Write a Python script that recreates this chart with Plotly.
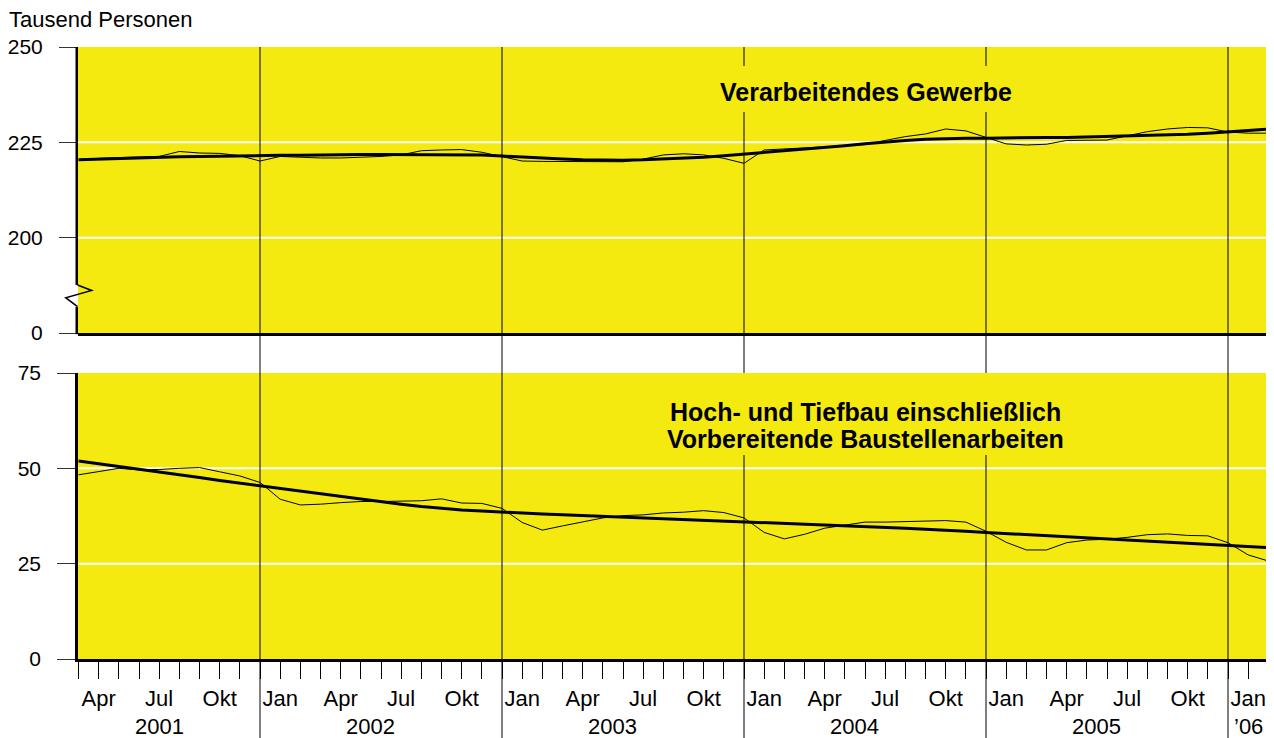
import plotly.graph_objects as go

# calendar: monthly values from April 2001 to March 2006
MONTHS = ["Jan", "Feb", "Mär", "Apr", "Mai", "Jun", "Jul", "Aug", "Sep", "Okt", "Nov", "Dez"]
start_year = 2001
start_month = 4
n_months = 60
periods = [(start_year + (start_month - 1 + i) // 12, MONTHS[(start_month - 1 + i) % 12])
           for i in range(n_months)]
label_months = ["Jan", "Apr", "Jul", "Okt"]
year_labels = {2001: "2001", 2002: "2002", 2003: "2003", 2004: "2004", 2005: "2005", 2006: "’06"}

# Verarbeitendes Gewerbe (Tausend Personen)
manuf_actual = [
    220.4, 220.8, 221.0, 221.2, 221.3, 222.6, 222.2, 222.1, 221.5, 220.1,
    221.3, 221.1, 220.9, 220.9, 221.1, 221.3, 221.7, 222.8, 223.0, 223.1,
    222.4, 221.3, 220.1, 220.0, 220.0, 220.0, 219.9, 219.9, 220.6, 221.7,
    222.0, 221.7, 220.8, 219.5, 223.0, 223.3, 223.4, 223.8, 224.2, 224.4,
    225.5, 226.5, 227.2, 228.5, 228.0, 226.4, 224.6, 224.3, 224.5, 225.5,
    225.6, 225.6, 226.7, 227.8, 228.5, 228.9, 228.8, 227.7, 227.4, 227.4,
]
manuf_trend = [
    220.4, 220.6, 220.8, 221.0, 221.1, 221.2, 221.3, 221.4, 221.4, 221.5,
    221.6, 221.6, 221.7, 221.7, 221.8, 221.8, 221.8, 221.8, 221.8, 221.8,
    221.7, 221.4, 221.1, 220.8, 220.6, 220.4, 220.3, 220.3, 220.4, 220.6,
    220.8, 221.1, 221.5, 221.9, 222.3, 222.7, 223.2, 223.6, 224.1, 224.6,
    225.1, 225.5, 225.8, 226.0, 226.1, 226.1, 226.2, 226.2, 226.3, 226.3,
    226.4, 226.5, 226.6, 226.7, 226.9, 227.1, 227.4, 227.7, 228.1, 228.5,
]
# Hoch- und Tiefbau einschl. vorbereitende Baustellenarbeiten
constr_actual = [
    48.3, 49.1, 50.0, 49.6, 49.7, 50.0, 50.2, 49.1, 48.0, 46.3,
    41.9, 40.4, 40.6, 41.0, 41.3, 41.3, 41.4, 41.5, 42.0, 40.9,
    40.8, 39.5, 35.8, 33.8, 34.9, 36.0, 37.0, 37.6, 37.8, 38.3,
    38.5, 38.9, 38.4, 37.0, 33.2, 31.5, 32.7, 34.3, 35.1, 35.9,
    35.9, 36.0, 36.2, 36.3, 35.9, 33.5, 30.6, 28.6, 28.6, 30.5,
    31.2, 31.4, 31.9, 32.6, 32.8, 32.4, 32.3, 30.5, 27.3, 25.7,
]
constr_trend = [
    51.9, 51.2, 50.5, 49.8, 49.0, 48.3, 47.6, 46.8, 46.1, 45.4,
    44.7, 44.0, 43.3, 42.6, 41.9, 41.2, 40.6, 40.0, 39.5, 39.1,
    38.8, 38.5, 38.2, 38.0, 37.8, 37.6, 37.4, 37.2, 37.0, 36.8,
    36.6, 36.4, 36.2, 36.0, 35.8, 35.6, 35.4, 35.2, 35.0, 34.8,
    34.6, 34.3, 34.0, 33.8, 33.5, 33.2, 32.9, 32.6, 32.3, 32.0,
    31.7, 31.4, 31.1, 30.8, 30.5, 30.2, 30.0, 29.7, 29.5, 29.2,
]

idx = list(range(n_months))

# page geometry in window pixels; the html body adds an 8px margin
OFF = 8
PAGE_W, PAGE_H = 1274, 738
W, H = PAGE_W - OFF, PAGE_H - OFF
PLOT_L, PLOT_R, PLOT_T, PLOT_B = 78, 1270, 47, 659
L, T = PLOT_L - OFF, PLOT_T - OFF
R, B = W - (PLOT_R - OFF), H - (PLOT_B - OFF)
PW, PH = W - L - R, H - T - B
STEP = 242 / 12
X0 = 78.5


def xp(px):
    return (px - PLOT_L) / PW


def yp(py):
    return (PLOT_B - py) / PH


xrange_ = [(PLOT_L - X0) / STEP, (PLOT_R - X0) / STEP]

YELLOW = "#F4EA10"
FONT = "Liberation Sans, Arial, sans-serif"

# month labels sit one tick to the right of their month
ticktext = []
for k in idx:
    if k >= 1 and periods[k - 1][1] in label_months:
        ticktext.append(periods[k - 1][1])
    else:
        ticktext.append("")

fig = go.Figure()
for y, w, xa, ya in [(manuf_actual, 1, "x", "y"), (manuf_trend, 3, "x", "y"),
                     (constr_actual, 1, "x2", "y2"), (constr_trend, 3, "x2", "y2")]:
    fig.add_trace(go.Scatter(x=idx, y=y, mode="lines", xaxis=xa, yaxis=ya,
                             line=dict(color="black", width=w),
                             showlegend=False, hoverinfo="skip"))

common_y = dict(ticks="outside", ticklen=18, tickwidth=1, tickcolor="#333",
                showgrid=False, zeroline=False, tickfont=dict(size=21, color="black"),
                ticklabelstandoff=12, fixedrange=True)

fig.update_layout(
    width=W, height=H,
    margin=dict(l=L, r=R, t=T, b=B, autoexpand=False),
    paper_bgcolor="white", plot_bgcolor=YELLOW,
    font=dict(family=FONT, color="black", size=22),
    xaxis=dict(domain=[0, 1], range=xrange_, anchor="y", showline=True, linecolor="black",
               linewidth=2.5, ticks="", showticklabels=False, showgrid=False, zeroline=False),
    yaxis=dict(domain=[yp(333), 1], range=[175, 250], anchor="x",
               tickvals=[175, 200, 225, 250], ticktext=["0", "200", "225", "250"],
               showline=False, **common_y),
    xaxis2=dict(domain=[0, 1], range=xrange_, anchor="y2", showline=True, linecolor="black",
                linewidth=2.5, ticks="outside", ticklen=17, tickwidth=1, tickcolor="black",
                tickvals=idx, ticktext=ticktext, tickfont=dict(size=22, color="black"),
                ticklabelstandoff=1, showgrid=False, zeroline=False),
    yaxis2=dict(domain=[0, yp(373)], range=[0, 75], anchor="x2",
                tickvals=[0, 25, 50, 75], showline=True, linecolor="black", linewidth=2.5,
                **common_y),
)

shapes = []
# white gridlines
for v in [200, 225]:
    shapes.append(dict(type="line", xref="paper", x0=0, x1=1, yref="y", y0=v, y1=v,
                       line=dict(color="white", width=2), layer="below"))
for v in [25, 50]:
    shapes.append(dict(type="line", xref="paper", x0=0, x1=1, yref="y2", y0=v, y1=v,
                       line=dict(color="white", width=2), layer="below"))
# top left axis with break mark
ax_x = xp(76.75)
shapes.append(dict(type="line", xref="paper", yref="paper", x0=ax_x, x1=ax_x,
                   y0=yp(307), y1=yp(334.2), line=dict(color="black", width=2.5)))
shapes.append(dict(type="line", xref="paper", yref="paper", x0=ax_x, x1=ax_x,
                   y0=yp(285), y1=1, line=dict(color="black", width=2.5)))
shapes.append(dict(type="path", xref="paper", yref="paper",
                   path="M {} {} L {} {} L {} {} L {} {}".format(
                       xp(77.5), yp(285), xp(91.7), yp(290.5),
                       xp(65.7), yp(297.7), xp(77.5), yp(306.7)),
                   line=dict(color="black", width=1.5)))
# year separators at each January
for k, (yr, mon) in enumerate(periods):
    if mon == "Jan":
        shapes.append(dict(type="line", xref="x2", x0=k, x1=k, yref="paper",
                           y0=yp(PAGE_H), y1=1, line=dict(color="black", width=1),
                           layer="above"))
# title boxes hide the separators
shapes.append(dict(type="rect", xref="paper", yref="paper", x0=xp(700), x1=xp(1035),
                   y0=yp(112), y1=yp(66), fillcolor=YELLOW, line=dict(width=0), layer="above"))
shapes.append(dict(type="rect", xref="paper", yref="paper", x0=xp(640), x1=xp(1090),
                   y0=yp(455), y1=yp(373), fillcolor=YELLOW, line=dict(width=0), layer="above"))
fig.update_layout(shapes=shapes)

TITLE_FONT = dict(size=25, weight="bold")
ann = [
    dict(text="Tausend Personen", xref="paper", yref="paper", x=xp(7), y=yp(20),
         xanchor="left", yanchor="middle", showarrow=False, font=dict(size=22)),
    dict(text="Verarbeitendes Gewerbe", xref="paper", yref="paper", x=xp(866), y=yp(92),
         xanchor="center", yanchor="middle", showarrow=False, font=TITLE_FONT),
    dict(text="Hoch- und Tiefbau einschließlich", xref="paper", yref="paper",
         x=xp(865), y=yp(411.5), xanchor="center", yanchor="middle", showarrow=False,
         font=TITLE_FONT),
    dict(text="Vorbereitende Baustellenarbeiten", xref="paper", yref="paper",
         x=xp(865), y=yp(439), xanchor="center", yanchor="middle", showarrow=False,
         font=TITLE_FONT),
]
# year labels centred under that year's month labels
for yr, txt in year_labels.items():
    ks = [k for k in idx if k >= 1 and periods[k - 1][0] == yr and periods[k - 1][1] in label_months]
    if not ks:
        continue
    ann.append(dict(text=txt, xref="x2", x=(min(ks) + max(ks)) / 2, yref="paper", y=yp(726),
                    xanchor="center", yanchor="middle", showarrow=False, font=dict(size=22)))
fig.update_layout(annotations=ann)

fig.write_html("out.html")
